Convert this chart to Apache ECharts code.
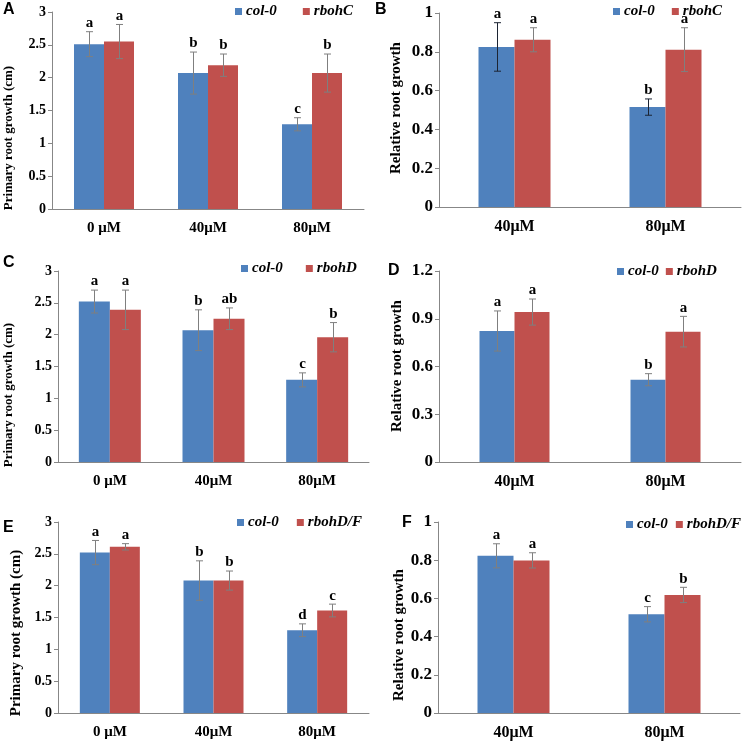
<!DOCTYPE html>
<html><head><meta charset="utf-8">
<script src="https://cdn.jsdelivr.net/npm/echarts@6/dist/echarts.min.js"></script>
<style>html,body{margin:0;padding:0;background:#fff}#c{width:747px;height:741px}</style>
</head><body><div id="c"></div>
<script>
// ---------- data ----------
const catsLeft = ['0 μM', '40μM', '80μM'];
const catsRight = ['40μM', '80μM'];
const yNamePrimary = 'Primary root growth (cm)';
const yNameRelative = 'Relative root growth';
const panelLetters = ['A', 'B', 'C', 'D', 'E', 'F'];
const wildName = 'col-0';
const mutantNames = ['rbohC', 'rbohC', 'rbohD', 'rbohD', 'rbohD/F', 'rbohD/F'];

// A
const aCol0 = [2.51, 2.07, 1.29];
const aCol0Err = [0.19, 0.32, 0.10];
const aCol0Let = ['a', 'b', 'c'];
const aMut = [2.55, 2.19, 2.07];
const aMutErr = [0.26, 0.17, 0.29];
const aMutLet = ['a', 'b', 'b'];
// B
const bCol0 = [0.825, 0.515];
const bCol0Err = [0.125, 0.042];
const bCol0Let = ['a', 'b'];
const bMut = [0.862, 0.811];
const bMutErr = [0.062, 0.113];
const bMutLet = ['a', 'a'];
// C
const cCol0 = [2.52, 2.07, 1.29];
const cCol0Err = [0.18, 0.32, 0.11];
const cCol0Let = ['a', 'b', 'c'];
const cMut = [2.39, 2.25, 1.96];
const cMutErr = [0.31, 0.17, 0.23];
const cMutLet = ['a', 'ab', 'b'];
// D
const dCol0 = [0.823, 0.517];
const dCol0Err = [0.126, 0.038];
const dCol0Let = ['a', 'b'];
const dMut = [0.942, 0.819];
const dMutErr = [0.082, 0.096];
const dMutLet = ['a', 'a'];
// E
const eCol0 = [2.52, 2.08, 1.30];
const eCol0Err = [0.19, 0.31, 0.10];
const eCol0Let = ['a', 'b', 'd'];
const eMut = [2.61, 2.08, 1.61];
const eMutErr = [0.05, 0.15, 0.10];
const eMutLet = ['a', 'b', 'c'];
// F
const fCol0 = [0.823, 0.517];
const fCol0Err = [0.063, 0.040];
const fCol0Let = ['a', 'c'];
const fMut = [0.799, 0.618];
const fMutErr = [0.040, 0.040];
const fMutLet = ['a', 'b'];

const yMaxes = [3, 1, 3, 1.2, 3, 1];
const yIntervals = [0.5, 0.2, 0.5, 0.3, 0.5, 0.2];

const panelData = [
  {cats: catsLeft, s1: aCol0, e1: aCol0Err, l1: aCol0Let, s2: aMut, e2: aMutErr, l2: aMutLet, yName: yNamePrimary},
  {cats: catsRight, s1: bCol0, e1: bCol0Err, l1: bCol0Let, s2: bMut, e2: bMutErr, l2: bMutLet, yName: yNameRelative},
  {cats: catsLeft, s1: cCol0, e1: cCol0Err, l1: cCol0Let, s2: cMut, e2: cMutErr, l2: cMutLet, yName: yNamePrimary},
  {cats: catsRight, s1: dCol0, e1: dCol0Err, l1: dCol0Let, s2: dMut, e2: dMutErr, l2: dMutLet, yName: yNameRelative},
  {cats: catsLeft, s1: eCol0, e1: eCol0Err, l1: eCol0Let, s2: eMut, e2: eMutErr, l2: eMutLet, yName: yNamePrimary},
  {cats: catsRight, s1: fCol0, e1: fCol0Err, l1: fCol0Let, s2: fMut, e2: fMutErr, l2: fMutLet, yName: yNameRelative}
];

// ---------- layout / style ----------
const layout = [
  {grid: {left: 52, top: 12, width: 312, height: 197}, barW: 30, tickFont: 14, catFont: 15, legend: {left: 235, top: 4, gap: 26}, letter: [3, 2], yLabel: [9, 138, 13], err1: '#7f7f7f'},
  {grid: {left: 439, top: 13, width: 302, height: 194}, barW: 36, tickFont: 17, catFont: 16, legend: {left: 613, top: 4, gap: 17}, letter: [375, 2], yLabel: [396, 108, 15], err1: '#1c2433'},
  {grid: {left: 58, top: 271, width: 311, height: 191}, barW: 31, tickFont: 14, catFont: 15, legend: {left: 241, top: 261, gap: 23}, letter: [3, 255], yLabel: [9, 395, 13], err1: '#7f7f7f'},
  {grid: {left: 439, top: 271, width: 302, height: 191}, barW: 35, tickFont: 17, catFont: 16, legend: {left: 617, top: 264, gap: 7}, letter: [388, 263], yLabel: [397, 366, 15], err1: '#7f7f7f'},
  {grid: {left: 58, top: 522, width: 311, height: 191}, barW: 30, tickFont: 14, catFont: 15, legend: {left: 237, top: 515, gap: 18}, letter: [3, 520], yLabel: [16, 633, 15], err1: '#7f7f7f'},
  {grid: {left: 438, top: 522, width: 302, height: 191}, barW: 36, tickFont: 17, catFont: 16, legend: {left: 626, top: 517, gap: 8}, letter: [402, 515], yLabel: [399, 635, 15], err1: '#7f7f7f'}
];
const BLUE = '#4f81bd', RED = '#c0504d', AXIS = '#878787', ERR = '#7f7f7f';
const SERIF = '"Liberation Serif", "Times New Roman", serif';
const SANS = '"Liberation Sans", Arial, sans-serif';

const grids = [], xAxes = [], yAxes = [], series = [], legends = [], graphics = [];

function errSeries(pi, side, vals, errs, lets, color, barW) {
  return {
    type: 'custom', xAxisIndex: pi, yAxisIndex: pi, silent: true, z: 5,
    data: vals.map((v, i) => [i, v, errs[i]]),
    encode: {x: 0, y: 1},
    renderItem(params, api) {
      const i = api.value(0), v = api.value(1), e = api.value(2);
      const c = api.coord([i, v]);
      const x = Math.round(c[0] + side * barW / 2) + 0.5;
      const yTop = api.coord([i, v + e])[1];
      const yBot = api.coord([i, v - e])[1];
      const cap = 3.5;
      const st = {stroke: color, lineWidth: 1};
      return {type: 'group', children: [
        {type: 'line', shape: {x1: x, y1: yTop, x2: x, y2: yBot}, style: st},
        {type: 'line', shape: {x1: x - cap, y1: yTop, x2: x + cap, y2: yTop}, style: st},
        {type: 'line', shape: {x1: x - cap, y1: yBot, x2: x + cap, y2: yBot}, style: st},
        {type: 'text', x: x, y: yTop - 1, style: {text: lets[params.dataIndex], fill: '#000', font: 'bold 15px ' + SERIF, align: 'center', verticalAlign: 'bottom'}}
      ]};
    }
  };
}

panelData.forEach((p, pi) => {
  const L = layout[pi];
  grids.push(Object.assign({containLabel: false}, L.grid));
  xAxes.push({
    type: 'category', gridIndex: pi, data: p.cats,
    axisLine: {show: true, lineStyle: {color: AXIS, width: 1}},
    axisTick: {show: false},
    axisLabel: {color: '#000', fontFamily: SERIF, fontWeight: 'bold', fontSize: L.catFont, margin: 12}
  });
  yAxes.push({
    type: 'value', gridIndex: pi, min: 0, max: yMaxes[pi], interval: yIntervals[pi],
    axisLine: {show: true, lineStyle: {color: AXIS, width: 1}},
    axisTick: {show: true, length: 4, lineStyle: {color: AXIS}},
    splitLine: {show: false},
    axisLabel: {color: '#000', fontFamily: SERIF, fontWeight: 'bold', fontSize: L.tickFont, margin: 6}
  });
  series.push({type: 'bar', name: wildName, xAxisIndex: pi, yAxisIndex: pi, data: p.s1, barWidth: L.barW, barGap: '0%', itemStyle: {color: BLUE}, silent: true});
  series.push({type: 'bar', name: mutantNames[pi], xAxisIndex: pi, yAxisIndex: pi, data: p.s2, barWidth: L.barW, barGap: '0%', itemStyle: {color: RED}, silent: true});
  series.push(errSeries(pi, -1, p.s1, p.e1, p.l1, L.err1, L.barW));
  series.push(errSeries(pi, 1, p.s2, p.e2, p.l2, ERR, L.barW));
  legends.push({
    data: [wildName, mutantNames[pi]], left: L.legend.left, top: L.legend.top, itemGap: L.legend.gap,
    icon: 'rect', itemWidth: 7, itemHeight: 7, selectedMode: false, padding: 0,
    textStyle: {color: '#000', fontFamily: SERIF, fontWeight: 'bold', fontStyle: 'italic', fontSize: 15, padding: [0, 0, 0, -1]}
  });
  graphics.push({type: 'text', x: L.letter[0], y: L.letter[1], style: {text: panelLetters[pi], fill: '#000', font: 'bold 16px ' + SANS, align: 'left', verticalAlign: 'top'}});
  graphics.push({type: 'text', x: L.yLabel[0], y: L.yLabel[1], rotation: Math.PI / 2, style: {text: p.yName, fill: '#000', font: 'bold ' + L.yLabel[2] + 'px ' + SERIF, align: 'center', verticalAlign: 'middle'}});
});

const chart = echarts.init(document.getElementById('c'), null, {renderer: 'canvas'});
chart.setOption({
  animation: false,
  backgroundColor: '#fff',
  grid: grids, xAxis: xAxes, yAxis: yAxes, series: series, legend: legends, graphic: graphics
});
</script></body></html>
